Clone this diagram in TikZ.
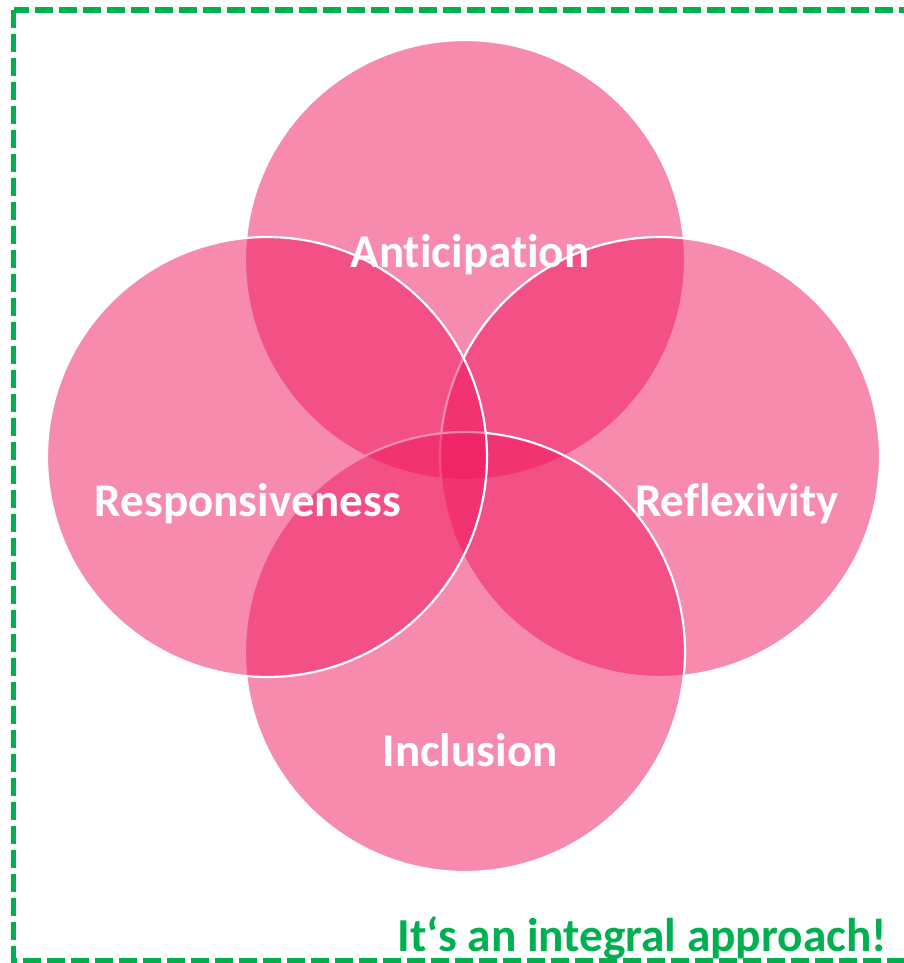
\documentclass[tikz,border=0pt]{standalone}
\usepackage{fontspec}
\setmainfont[Ligatures=NoCommon]{Carlito}
\definecolor{rrpink}{RGB}{239,23,94}
\definecolor{rrgreen}{RGB}{0,176,80}
\tikzset{
  petal/.style={circle, minimum size=440pt, inner sep=0pt, fill=rrpink, fill opacity=0.5, draw=white, draw opacity=1, line width=2.2pt},
  label/.style={text=white, font=\bfseries\fontsize{47}{50}\selectfont, anchor=base, inner sep=0pt},
  frame/.style={draw=rrgreen, line width=5.5pt, dash pattern=on 18pt off 6pt}
}
\begin{document}
\begin{tikzpicture}[x=1pt,y=-1pt]
\useasboundingbox (0,0) rectangle (904,963);
\begin{scope}
\clip (0,0) rectangle (904,963);
\draw[frame] (13.5,10) rectangle (930,961);
\end{scope}
\node[petal] (top) at (465,260) {};
\node[petal] (right) at (660,457) {};
\node[petal] (bottom) at (465,652) {};
\node[petal] (left) at (267,457) {};
\node[label] (ant) at (470,267) {Anticipation};
\node[label] (resp) at (248,516) {Responsiveness};
\node[label] (refl) at (737,516) {Reflexivity};
\node[label] (incl) at (470,766) {Inclusion};
\node[anchor=base east, inner sep=0pt, text=rrgreen, font=\bfseries\fontsize{47.3}{50}\selectfont] (claim) at (887,951) {It‘s an integral approach!};
\end{tikzpicture}
\end{document}
